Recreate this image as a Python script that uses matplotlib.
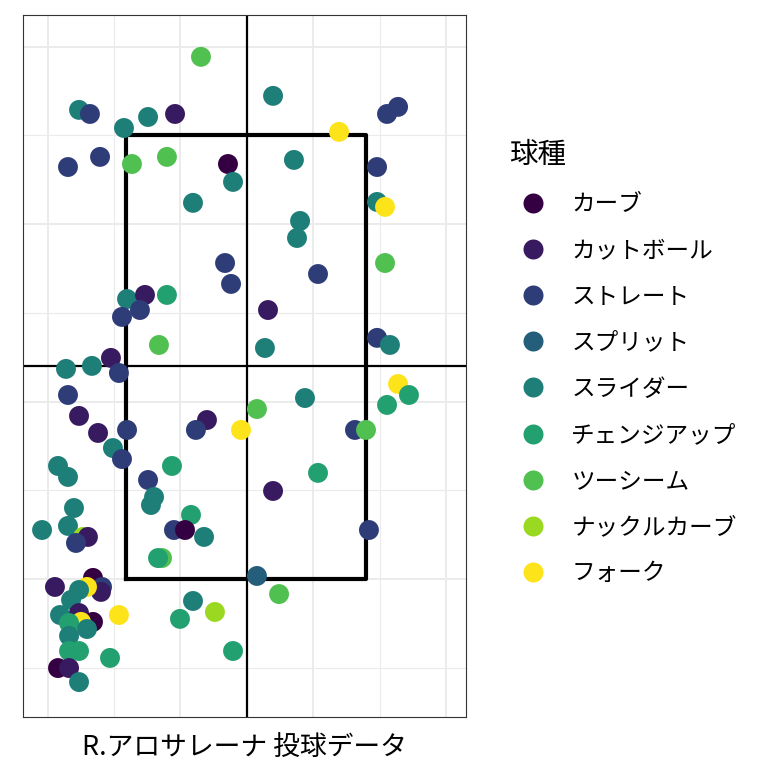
import matplotlib.pyplot as plt
from matplotlib.lines import Line2D

plt.rcParams['font.family'] = ['Noto Sans CJK JP', 'DejaVu Sans']

pitch_names = ['カーブ', 'カットボール', 'ストレート', 'スプリット', 'スライダー',
               'チェンジアップ', 'ツーシーム', 'ナックルカーブ', 'フォーク']
pitch_colors = ['#340042', '#381a60', '#2e3d78', '#245e7a', '#1e7e78',
                '#23a070', '#50c050', '#9ad821', '#fde31a']

# pitch index, horizontal location, height (ft)
pitch_type = [6, 4, 2, 4, 4, 1, 2, 2, 6, 6, 0, 4, 4, 2, 2, 4, 1, 5, 2, 2,
              6, 1, 4, 4, 2,
              4, 2, 2, 8, 4, 2, 4, 8, 4, 4, 6, 2, 1, 4, 2, 4,
              2, 1, 1, 2, 4, 2, 4, 4, 2, 5, 4, 4, 1, 2, 8, 5, 2, 0, 4, 6, 5,
              4, 4, 4, 7, 1, 2,
              1, 0, 2, 1, 8, 4, 4, 4, 1, 0, 8, 5, 4, 4, 5, 5, 5, 0, 1, 4, 8,
              4, 7, 5, 5,
              8, 5, 5, 6, 4, 2, 6, 5, 1, 2, 3, 6]
plate_x = [-0.346, -1.263, -1.181, -0.925, -0.744, -0.541, -1.346, -1.105, -0.865, -0.602,
           -0.143, -0.105, -0.406, -0.165, -0.120, -0.902, -0.767, -0.602, -0.805, -0.940,
           -0.662, -1.023, -1.361, -1.166, -0.963,
           0.196, 1.136, 1.053, 0.692, 0.353, 0.978, 0.978, 1.038, 0.399, 0.376,
           1.038, 0.534, 0.158, 0.135, 0.978, 1.075,
           -1.346, -1.263, -1.120, -0.902, -1.008, -0.940, -1.421, -1.346, -0.744, -0.564,
           -0.699, -0.722, -0.301, -0.384, -0.045, -0.421, -0.549, -0.466, -0.323, -0.639,
           -0.669,
           -1.301, -1.541, -1.346, -1.233, -1.196, -1.286,
           -1.444, -1.158, -1.090, -1.098, -1.203, -1.263, -1.323, -1.406, -1.263, -1.158,
           -1.248, -1.338, -1.203, -1.338, -1.338, -1.263, -1.030, -1.421, -1.338, -1.263,
           -0.963,
           -0.406, -0.241, -0.504, -0.105,
           1.136, 1.218, 1.053, 0.075, 0.436, 0.812, 0.895, 0.534, 0.196, 0.917, 0.075, 0.241]
plate_z = [3.943, 3.644, 3.621, 3.542, 3.604, 3.621, 3.322, 3.379, 3.339, 3.379,
           3.339, 3.238, 3.120, 2.781, 2.663, 2.578, 2.601, 2.601, 2.516, 2.477,
           2.319, 2.246, 2.184, 2.201, 2.161,
           3.723, 3.661, 3.621, 3.520, 3.362, 3.322, 3.125, 3.097, 3.018, 2.922,
           2.781, 2.719, 2.516, 2.302, 2.359, 2.319,
           2.037, 1.919, 1.823, 1.840, 1.738, 1.676, 1.637, 1.575, 1.558, 1.637,
           1.462, 1.417, 1.896, 1.840, 1.840, 1.361, 1.276, 1.276, 1.237, 1.118,
           1.118,
           1.400, 1.276, 1.299, 1.237, 1.237, 1.203,
           0.955, 1.006, 0.955, 0.927, 0.955, 0.938, 0.882, 0.797, 0.808, 0.758,
           0.758, 0.752, 0.718, 0.679, 0.594, 0.594, 0.555, 0.498, 0.498, 0.419,
           0.797,
           0.876, 0.814, 0.775, 0.594,
           2.099, 2.037, 1.981, 1.958, 2.020, 1.840, 1.840, 1.598, 1.496, 1.276, 1.017, 0.915]

zone_left, zone_right = -0.91, 0.895
zone_bottom, zone_top = 1.0, 3.5
center_height = 2.2

fig = plt.figure(figsize=(7.68, 7.68), dpi=100)
ax = fig.add_axes([0.0293, 0.0664, 0.5775, 0.9141])

ax.set_xlim(-1.688, 1.647)
ax.set_ylim(0.222, 4.179)
ax.set_xticks([-1.5, -0.5, 0.5, 1.5])
ax.set_xticks([-1, 0, 1], minor=True)
ax.set_yticks([1, 2, 3, 4])
ax.set_yticks([0.5, 1.5, 2.5, 3.5], minor=True)
ax.grid(True, which='major', color='#ebebeb', linewidth=1.4)
ax.grid(True, which='minor', color='#ebebeb', linewidth=0.8)
ax.tick_params(which='both', length=0, labelbottom=False, labelleft=False)
ax.set_axisbelow(True)
for sp in ax.spines.values():
    sp.set_color('#333333')
    sp.set_linewidth(0.8)

ax.axvline(0, color='black', linewidth=1.6, zorder=2)
ax.axhline(center_height, color='black', linewidth=1.6, zorder=2)
ax.plot([zone_left, zone_right, zone_right, zone_left, zone_left],
        [zone_bottom, zone_bottom, zone_top, zone_top, zone_bottom],
        color='black', linewidth=3, zorder=3)

colors = [pitch_colors[i] for i in pitch_type]
ax.scatter(plate_x, plate_z, s=205, c=colors, linewidths=0, zorder=4)

ax.set_xlabel('R.アロサレーナ 投球データ', fontsize=19.3, labelpad=12)

handles = [Line2D([], [], linestyle='none', marker='o', markersize=14.4,
                  markerfacecolor=c, markeredgewidth=0) for c in pitch_colors]
leg = fig.legend(handles, pitch_names, loc='upper left', bbox_to_anchor=(0.647, 0.833),
                 frameon=False, fontsize=17, title='球種', title_fontsize=20.5,
                 alignment='left', handlelength=2.07, handletextpad=0.585,
                 labelspacing=0.98, borderpad=0)

fig.savefig('out.png', dpi=100)
